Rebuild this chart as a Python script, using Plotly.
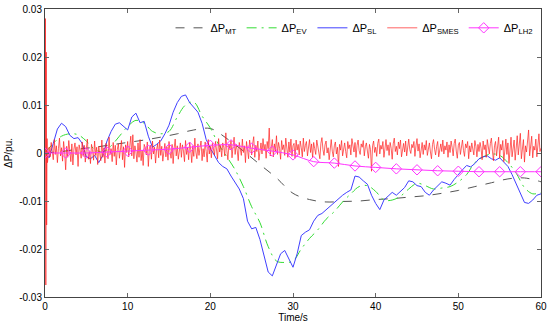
import plotly.graph_objects as go

# ---------------- data ----------------
t_mt = [0, 2, 4, 6, 8, 10, 12, 14, 16, 18, 20, 22, 24, 26, 28, 30, 32, 34, 36, 38,
        40, 42, 44, 46, 48, 50, 52, 54, 56, 58, 60]
mt = [0, 0.0003, 0.0008, 0.0012, 0.0017, 0.0022, 0.0027, 0.0033, 0.004, 0.0048,
      0.0051, 0.003, 0.0004, -0.0024, -0.0052, -0.0084, -0.0097, -0.0102, -0.0101, -0.01,
      -0.0097, -0.0095, -0.0092, -0.0089, -0.0084, -0.0078, -0.007, -0.0062, -0.0054,
      -0.0052, -0.006]

ev = [0, 0.002, 0.0035, 0.004, 0.0038, 0.0025, 0.0008, 0.0002, 0.0015, 0.0035,
      0.0055, 0.0068, 0.0062, 0.0045, 0.004, 0.0045, 0.0075, 0.0100, 0.0106, 0.0077,
      0.0052, 0.0018, -0.0008, -0.0035, -0.007, -0.0112, -0.0145, -0.0195, -0.0225, -0.0228,
      -0.0225, -0.02, -0.0178, -0.016, -0.0138, -0.0122, -0.0102, -0.0085, -0.007, -0.0068,
      -0.008, -0.0098, -0.0098, -0.009, -0.0075, -0.0063, -0.0068, -0.0075, -0.0073, -0.007,
      -0.006, -0.0045, -0.002, -0.0008, -0.0002, -0.0005, -0.002, -0.0042, -0.0072, -0.0085,
      -0.0082]
t_ev = list(range(len(ev)))

sl = [0, -0.001, 0.002, 0.005, 0.0062, 0.0055, 0.0037, 0.003, 0.0032, 0.002,
      -0.0008, -0.0012, -0.0005, -0.002, -0.0005, 0.0025, 0.0045, 0.006, 0.0063, 0.0055,
      0.0048, 0.0075, 0.0083, 0.0063, 0.0066, 0.0035, 0.0012, 0.0018, 0.0025, 0.004,
      0.0058, 0.0085, 0.0105, 0.0118, 0.0121, 0.0105, 0.0095, 0.0085, 0.0062, 0.0028,
      0.001, -0.0006, -0.002, -0.0028, -0.0033, -0.0048, -0.0062, -0.0075, -0.0095, -0.0142,
      -0.0158, -0.0155, -0.018, -0.0212, -0.0248, -0.0256, -0.0235, -0.021, -0.0203, -0.0222,
      -0.0238, -0.021, -0.0172, -0.0165, -0.016, -0.0142, -0.013, -0.0126, -0.0118, -0.0112,
      -0.0102, -0.0095, -0.0088, -0.0082, -0.0077, -0.0048, -0.005, -0.0058, -0.0065, -0.0088,
      -0.0105, -0.0118, -0.0098, -0.009, -0.0082, -0.0088, -0.008, -0.0072, -0.0058, -0.006,
      -0.0068, -0.007, -0.0082, -0.0088, -0.0077, -0.0068, -0.006, -0.0063, -0.0067, -0.0055,
      -0.0044, -0.0035, -0.0026, -0.0029, -0.0022, -0.0012, -0.0008, -0.0006, -0.0012, -0.0015,
      -0.001, -0.002, -0.0028, -0.0045, -0.0065, -0.0085, -0.0103, -0.0105, -0.0098, -0.0088,
      -0.0085]
t_sl = [i * 0.5 for i in range(len(sl))]

# SMES: initial spike, then readings every 0.125 s from t = 0.5 s (values in 1e-4 pu)
t_smes_spike = [0, 0.05, 0.1, 0.15, 0.2, 0.25, 0.3]
smes_spike = [0, 0.028, -0.0275, 0.021, -0.015, 0.003, -0.002]
smes_rest_e4 = [
    12, -8, 22, 5, -14, 28, -3, 15, -20, 9, 31, -6, 11, -17, 24, 2,
    -35, 14, -9, 26, 4, -18, 19, -25, 8, 21, -4, 13, -28, 17, 6, -11,
    23, -7, 16, -19, 10, 29, -13, 3, -22, 18, 7, -15, 25, -5, 12, -24,
    14, 2, -16, 27, -9, 11, -21, 20, 5, -12, 33, -3, 9, -18, 22, -7,
    16, -25, 8, 19, -11, 4, 26, -14, 13, -30, 17, 1, 24, -8, 10, 35,
    -6, 38, -12, 15, 3, -19, 21, -9, 28, -16, 6, -26, 18, 11, -4, 23,
    -28, 9, 16, -13, 25, -2, 12, -21, 7, 19, -10, 27, -5, 14, -17, 8,
    20, -8, 13, -15, 24, 3, -11, 18, -22, 10, 29, -6, 15, -13, 7, 21,
    -9, 17, 4, -18, 26, -3, 12, -14, 22, 8, -20, 15, -7, 31, 2, -12,
    19, -5, 11, 25, -16, 9, -8, 23, 3, -19, 28, -2, 14, -10, 20, 6,
    -4, 24, 9, -12, 30, 2, 16, -8, 21, 12, -6, 42, 5, -14, 19, 7,
    26, -10, 14, 33, -3, 18, 6, -16, 22, 11, -5, 29, 1, 15, -20, 24,
    8, -12, 27, 13, -4, 20, 34, -9, 16, 3, 25, -15, 11, 21, -2, 30,
    5, 18, -11, 24, 9, 52, -6, 14, 28, -8, 19, 4, 36, -3, 22, 10,
    -13, 26, 7, 17, -5, 31, 12, -9, 23, 2, 29, -7, 15, 20, -11, 27,
    6, 18, -4, 25, 11, -8, 31, 3, 16, 24, -6, 13, 28, 1, 19, -10,
    22, 9, -3, 27, 14, 5, -12, 20, 32, 7, -5, 17, 25, 0, 11, -14,
    19, 28, 4, -8, 15, 23, -2, 12, -28, 18, 6, 26, -6, 14, 21, 3,
    -10, 24, 9, 17, -4, 30, 11, 2, 22, -9, 16, 27, 5, -3, 19, 12,
    26, -6, 13, 21, 4, -11, 18, 7, -38, 15, 25, 1, 12, -7, 20, 29,
    -2, 16, 8, 24, -9, 13, 28, 5, 17, -5, 22, 10, -13, 19, 31, 3,
    14, -4, 23, 9, 27, -8, 12, 20, 2, 25, -6, 16, 29, 7, -1, 18,
    11, 24, -7, 15, 30, 4, 19, -10, 13, 22, -3, 17, 6, 26, -5, 12,
    21, 2, -12, 18, 28, 8, -4, 14, 24, -8, 10, 19, 3, 27, -2, 15,
    6, 23, -9, 17, 1, 25, 12, -6, 20, 29, 4, -11, 16, 22, -3, 13,
    27, 5, -7, 19, 11, 24, -12, 15, 2, 21, 9, -4, 26, 14, -8, 18,
    3, 22, 10, -14, 25, 7, 17, -9, 28, 13, -2, 20, 31, 4, -16, 15,
    24, -6, 12, 33, -11, 18, 6, 26, -18, 14, 29, -3, 21, -22, 9, 33,
    -8, 17, 27, -15, 11, 36, -4, 22, 41, -12, 8, 28, -19, 15, 2, 24,
    48, -6, 19, 35, -10, 14, 6, 29, -8, 22, 40, 3, 10,
]
t_smes = t_smes_spike + [0.5 + 0.125 * i for i in range(len(smes_rest_e4))]
smes = smes_spike + [v * 1e-4 for v in smes_rest_e4]

lh2 = [0, 0, 0, 0.0002, 0.0004, 0.0006, 0.0008, 0.0012, 0.0016, 0.0017,
       0.001, 0.0004, -0.0004, -0.0018, -0.0021, -0.0027, -0.003, -0.0033, -0.0035, -0.0037,
       -0.0038, -0.0039, -0.0039, -0.0039, -0.0039]
t_lh2 = [i * 2.5 for i in range(len(lh2))]

x_ticks = [0, 10, 20, 30, 40, 50, 60]
y_ticks = [-0.03, -0.02, -0.01, 0, 0.01, 0.02, 0.03]
y_tick_text = ["-0.03", "-0.02", "-0.01", "0", "0.01", "0.02", "0.03"]

# ---------------- figure ----------------
FONT = "Liberation Sans, Arial, sans-serif"
fig = go.Figure()
fig.add_trace(go.Scatter(x=t_mt, y=mt, mode="lines", name="ΔP<sub>MT</sub>",
                         line=dict(color="#555555", width=1, dash="dash", shape="spline")))
fig.add_trace(go.Scatter(x=t_ev, y=ev, mode="lines", name="ΔP<sub>EV</sub>",
                         line=dict(color="#33dd33", width=1, dash="10px,5px,2px,5px", shape="spline")))
fig.add_trace(go.Scatter(x=t_sl, y=sl, mode="lines", name="ΔP<sub>SL</sub>",
                         line=dict(color="#4040ff", width=1)))
fig.add_trace(go.Scatter(x=t_smes, y=smes, mode="lines", name="ΔP<sub>SMES</sub>",
                         line=dict(color="#ff2020", width=0.7)))
fig.add_trace(go.Scatter(x=t_lh2, y=lh2, mode="lines+markers", name="ΔP<sub>LH2</sub>",
                         line=dict(color="#ff33ff", width=1, shape="spline"),
                         marker=dict(symbol="diamond-open", size=8, color="#ff33ff",
                                     line=dict(width=1))))

axis_common = dict(showline=True, linecolor="#444444", linewidth=1, mirror="ticks",
                   ticks="inside", ticklen=4, tickcolor="#666666", showgrid=False,
                   zeroline=False, automargin=False,
                   tickfont=dict(family=FONT, size=10, color="black"))
fig.update_layout(
    width=550, height=326,
    margin=dict(l=45, r=9, t=9, b=29),
    paper_bgcolor="white", plot_bgcolor="white",
    font=dict(family=FONT, size=10, color="black"),
    showlegend=True,
    legend=dict(orientation="h", x=0.995, xanchor="right", y=0.985, yanchor="top",
                bgcolor="rgba(0,0,0,0)", font=dict(family=FONT, size=11),
                itemwidth=30, tracegroupgap=0),
    xaxis=dict(range=[0, 60], tickvals=x_ticks, **axis_common,
               title=dict(text="Time/s", font=dict(family=FONT, size=10), standoff=2)),
    yaxis=dict(range=[-0.03, 0.03], tickvals=y_ticks, ticktext=y_tick_text, **axis_common,
               title=dict(text="ΔP/pu.", font=dict(family=FONT, size=10), standoff=4)),
)
fig.write_html("out.html", config={"displayModeBar": False},
               post_script="document.body.style.margin='0';document.body.style.overflow='hidden';")
